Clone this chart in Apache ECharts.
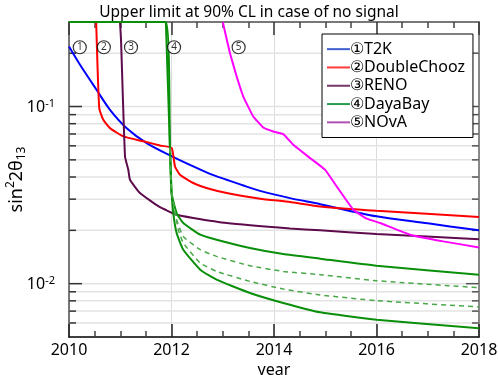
<!DOCTYPE html>
<html>
<head>
<meta charset="utf-8">
<script src="https://cdn.jsdelivr.net/npm/echarts@6.0.0/dist/echarts.min.js"></script>
<style>
  html, body { margin: 0; padding: 0; background: #fff; }
  #chart { width: 498px; height: 375px; }
</style>
</head>
<body>
<div id="chart"></div>
<script>
// 曲线数据 [年份, sin^2 2θ13 上限]
const t2k = [[2010.0, 0.218], [2010.215, 0.172], [2010.54, 0.124], [2010.8, 0.0958], [2011.126, 0.0755],
  [2011.516, 0.0622], [2011.97, 0.053], [2012.425, 0.0459], [2012.751, 0.0417], [2013.077, 0.0386],
  [2013.401, 0.0358], [2013.727, 0.0334], [2014.312, 0.0304], [2014.9, 0.0281], [2016.0, 0.024],
  [2017.0, 0.0219], [2018.0, 0.02]];
const doubleChooz = [[2010.53, 0.3], [2010.59, 0.098], [2010.669, 0.0841], [2010.8, 0.0755], [2011.06, 0.0678],
  [2011.45, 0.0636], [2011.776, 0.0603], [2012.004, 0.0583], [2012.068, 0.0459], [2012.166, 0.0412],
  [2012.425, 0.037], [2012.751, 0.0342], [2013.077, 0.0325], [2013.727, 0.0302], [2014.312, 0.0289],
  [2014.9, 0.0273], [2016.0, 0.0258], [2018.0, 0.0238]];
const reno = [[2010.995, 0.3], [2011.015, 0.2378], [2011.093, 0.0522], [2011.157, 0.044], [2011.19, 0.0386],
  [2011.385, 0.0325], [2011.75, 0.0273], [2012.101, 0.0245], [2012.425, 0.0235], [2013.077, 0.022],
  [2014.312, 0.0205], [2014.9, 0.02], [2016.0, 0.0191], [2018.0, 0.0178]];
const dayaBayHigh = [[2010.0, 0.3], [2011.89, 0.3], [2011.97, 0.0585], [2012.0, 0.0325], [2012.1, 0.02505],
  [2012.23, 0.022], [2012.56, 0.0189], [2012.88, 0.0177], [2013.53, 0.0159], [2014.18, 0.0147],
  [2014.9, 0.01384], [2016.0, 0.01263], [2018.0, 0.01124]];
const dayaBayLow = [[2011.89, 0.3], [2011.97, 0.0585], [2012.0, 0.0339], [2012.035, 0.025], [2012.1, 0.0193],
  [2012.23, 0.01555], [2012.56, 0.012], [2012.88, 0.01053], [2013.53, 0.00886], [2014.18, 0.00778],
  [2014.9, 0.00689], [2016.0, 0.00626], [2018.0, 0.0056]];
const dayaBayDash1 = [[2011.97, 0.0585], [2012.0, 0.0339], [2012.1, 0.02296], [2012.23, 0.01848],
  [2012.56, 0.01555], [2012.88, 0.01426], [2013.53, 0.01263], [2014.18, 0.01173], [2014.9, 0.01124],
  [2016.0, 0.01039], [2018.0, 0.00949]];
const dayaBayDash2 = [[2011.97, 0.0585], [2012.0, 0.0339], [2012.133, 0.02016], [2012.23, 0.01697],
  [2012.56, 0.01309], [2012.88, 0.01173], [2013.53, 0.0103], [2014.18, 0.00933], [2014.9, 0.00864],
  [2016.0, 0.00802], [2018.0, 0.00739]];
const nova = [[2013.0, 0.3], [2013.141, 0.2001], [2013.272, 0.1476], [2013.401, 0.1139], [2013.596, 0.0878],
  [2013.791, 0.0761], [2013.986, 0.0723], [2014.181, 0.0699], [2014.377, 0.0608], [2014.702, 0.0512],
  [2014.995, 0.044], [2015.223, 0.0354], [2015.547, 0.02615], [2015.809, 0.02326], [2016.068, 0.022],
  [2016.654, 0.0189], [2017.303, 0.01733], [2018.0, 0.01602]];

const names = ['①T2K', '②DoubleChooz', '③RENO', '④DayaBay', '⑤NOvA'];
const marks = ['1', '2', '3', '4', '5'];
const markYears = [2010.21, 2010.68, 2011.21, 2012.05, 2013.31];
const markValue = 0.216;

const yMin = 0.005, yMax = 0.3;
const yTicks = [0.006, 0.007, 0.008, 0.009, 0.01, 0.02, 0.03, 0.04, 0.05, 0.06, 0.07, 0.08, 0.09, 0.1, 0.2];
const yMajor = [0.01, 0.1];

const FONT = 'Noto Sans';

// y轴刻度、网格线、标签
function renderYTick(params, api) {
  const v = api.value(1);
  const l = api.coord([2010, v]);
  const r = api.coord([2018, v]);
  const major = yMajor.indexOf(v) >= 0;
  const len = major ? 13 : 7;
  const children = [
    { type: 'line', shape: { x1: l[0], y1: l[1], x2: r[0], y2: r[1] }, style: { stroke: '#e3e3e3', lineWidth: 1.5 } },
    { type: 'line', shape: { x1: l[0], y1: l[1], x2: l[0] + len, y2: l[1] }, style: { stroke: '#333', lineWidth: 1.5 } },
    { type: 'line', shape: { x1: r[0] - len, y1: r[1], x2: r[0], y2: r[1] }, style: { stroke: '#555', lineWidth: 1.5 } }
  ];
  if (major) {
    const exp = Math.round(Math.log10(v));
    children.push({
      type: 'text',
      x: l[0] - 14, y: l[1] + 1,
      style: {
        text: '{b|10}{s|' + exp + '}',
        align: 'right', verticalAlign: 'middle',
        rich: {
          b: { fontSize: 16, fontFamily: FONT, fill: '#000' },
          s: { fontSize: 11, fontFamily: FONT, fill: '#000', verticalAlign: 'top', padding: [0, 0, 8, 0] }
        }
      }
    });
  }
  return { type: 'group', children: children };
}

function lineSeries(name, data, color, dashed, smooth) {
  return {
    name: name, type: 'line', data: data, showSymbol: false, symbol: 'none',
    smooth: smooth || false, z: 3, silent: true,
    lineStyle: { color: color, width: dashed ? 1.5 : 2, type: dashed ? [5, 4] : 'solid' },
    itemStyle: { color: color }
  };
}

const green = '#0a8f0a';
let chart = echarts.init(document.getElementById('chart'), null, { renderer: 'canvas' });
let option = {
  animation: false,
  title: {
    text: 'Upper limit at 90% CL in case of no signal',
    left: 'center', top: 0,
    textStyle: { fontSize: 15.5, fontWeight: 'normal', fontFamily: FONT, color: '#000' }
  },
  legend: {
    left: 322, top: 34, orient: 'vertical',
    data: [
      { name: names[0], itemStyle: { color: '#3f5fcf' } },
      { name: names[1], itemStyle: { color: '#ff3b3b' } },
      { name: names[2], itemStyle: { color: '#74386a' } },
      { name: names[3], itemStyle: { color: '#2a9a50' } },
      { name: names[4], itemStyle: { color: '#b050b0' } }
    ],
    icon: 'rect', itemWidth: 23, itemHeight: 2, itemGap: 0,
    padding: [6, 8, 6, 5],
    backgroundColor: '#fff', borderColor: '#000', borderWidth: 1,
    textStyle: { fontSize: 16, fontFamily: FONT, color: '#000', lineHeight: 18.3, padding: [0, 0, 0, -5] },
    selectedMode: false
  },
  grid: { left: 69, right: 19, top: 22, bottom: 38, outerBoundsMode: 'none' },
  xAxis: [{
    type: 'value', min: 2010, max: 2018, interval: 2,
    name: 'year', nameLocation: 'middle', nameGap: 20,
    nameTextStyle: { fontSize: 16, fontFamily: FONT, color: '#000' },
    axisLine: { show: true, lineStyle: { color: '#000', width: 1.5 } },
    axisTick: { show: true, inside: true, length: 13, lineStyle: { color: '#222', width: 1.5 } },
    minorTick: { show: true, splitNumber: 4, length: 6, lineStyle: { color: '#444', width: 1.5 } },
    axisLabel: { fontSize: 16, fontFamily: FONT, color: '#000', margin: 5, formatter: v => String(v) },
    splitLine: { show: true, lineStyle: { color: '#dcdcdc', width: 1 } }
  }, {
    type: 'value', min: 2010, max: 2018, interval: 2, position: 'top',
    axisLine: { show: true, lineStyle: { color: '#777', width: 2 } },
    axisTick: { show: true, inside: true, length: 13, lineStyle: { color: '#333', width: 1.5 } },
    minorTick: { show: true, splitNumber: 4, length: 6, lineStyle: { color: '#444', width: 1.5 } },
    axisLabel: { show: false },
    splitLine: { show: false }
  }],
  yAxis: [{
    type: 'log', logBase: 10, min: yMin, max: yMax,
    name: '{n|sin}{s|2}{n|2θ}{d|13}', nameLocation: 'middle', nameRotate: 90, nameGap: 41,
    nameTextStyle: {
      rich: {
        n: { fontSize: 18, fontFamily: FONT, color: '#000' },
        s: { fontSize: 12, fontFamily: FONT, color: '#000', verticalAlign: 'top', padding: [0, 0, 11, 0] },
        d: { fontSize: 12, fontFamily: FONT, color: '#000', verticalAlign: 'bottom', padding: [7, 0, 0, 0] }
      }
    },
    axisLine: { show: true, lineStyle: { color: '#777', width: 2 } },
    axisTick: { show: false }, axisLabel: { show: false }, splitLine: { show: false }
  }, {
    type: 'log', logBase: 10, min: yMin, max: yMax, position: 'right',
    axisLine: { show: true, lineStyle: { color: '#888', width: 2 } },
    axisTick: { show: false }, axisLabel: { show: false }, splitLine: { show: false }
  }],
  series: [
    {
      type: 'custom', name: 'yticks', z: 1, silent: true, clip: false,
      renderItem: renderYTick,
      encode: { x: 0, y: 1 },
      data: yTicks.map(v => [2010, v])
    },
    lineSeries(names[0], t2k, '#0000ff', false, 0.3),
    lineSeries(names[1], doubleChooz, '#ff0000', false, 0.15),
    lineSeries(names[2], reno, '#5e0b4c', false, 0.15),
    lineSeries(names[3], dayaBayHigh, green, false, 0.15),
    lineSeries(names[3], dayaBayLow, green, false, 0.15),
    lineSeries(names[3], dayaBayDash1, '#4aa84a', true, 0.15),
    lineSeries(names[3], dayaBayDash2, '#4aa84a', true, 0.15),
    lineSeries(names[4], nova, '#ff00ff', false, 0.1),
    {
      type: 'scatter', name: 'marks', z: 5, silent: true,
      symbol: 'circle', symbolSize: 13,
      itemStyle: { color: '#fff', borderColor: '#000', borderWidth: 1.2 },
      label: {
        show: true, position: 'inside', fontSize: 10, fontFamily: FONT, color: '#000',
        formatter: p => marks[p.dataIndex]
      },
      data: markYears.map(y => [y, markValue])
    }
  ]
};
chart.setOption(option);
</script>
</body>
</html>
